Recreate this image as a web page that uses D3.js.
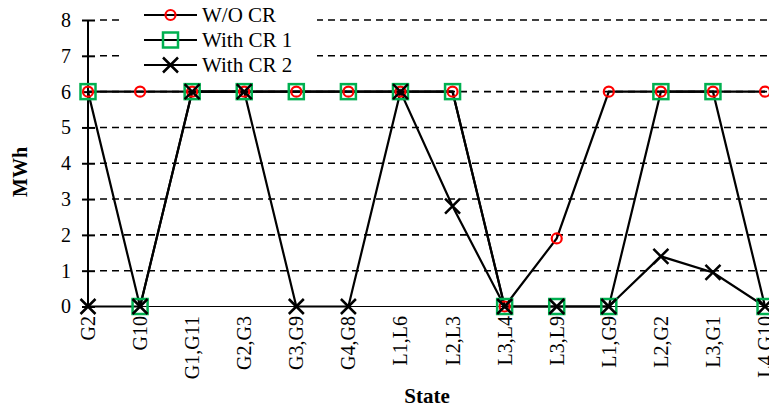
<!DOCTYPE html>
<html>
<head>
<meta charset="utf-8">
<script src="https://cdn.jsdelivr.net/npm/d3@7/dist/d3.min.js"></script>
<style>
html,body{margin:0;padding:0;background:#fff;overflow:hidden;}
svg text{font-family:"Liberation Serif","Times New Roman","DejaVu Serif",serif !important;}
</style>
</head>
<body>
<svg id="chart" width="769" height="412"></svg>
<script>
const categories = ["G2","G10","G1,G11","G2,G3","G3,G9","G4,G8","L1,L6","L2,L3","L3,L4","L3,L9","L1,G9","L2,G2","L3,G1","L4,G10"];
const seriesNames = ["W/O CR","With CR 1","With CR 2"];
const woCR  = [6,6,6,6,6,6,6,6,0,1.9,6,6,6,6];
const withCR1 = [6,0,6,6,6,6,6,6,0,0,0,6,6,0];
const withCR2 = [0,0,6,6,0,0,6,2.8,0,0,0,1.4,0.95,0];
const yTicks = [0,1,2,3,4,5,6,7,8];

const FONT = "Liberation Serif, Times New Roman, serif";
const svg = d3.select("#chart").attr("font-family", FONT);
const x0 = 88, xStep = 52.08;
const x = d3.scalePoint().domain(categories).range([x0, x0 + xStep*(categories.length-1)]);
const y = d3.scaleLinear().domain([0,8]).range([306.5,20]);
const W = 769;

// gridlines
svg.append("g").selectAll("line").data(yTicks.filter(t=>t>0)).join("line")
  .attr("x1", x0+12).attr("x2", W).attr("y1", d=>y(d)).attr("y2", d=>y(d))
  .attr("stroke","#000").attr("stroke-width",1.6).attr("stroke-dasharray","7,5");

// x baseline
svg.append("line").attr("x1",x0).attr("x2",W).attr("y1",y(0)).attr("y2",y(0))
  .attr("stroke","#000").attr("stroke-width",1.2);

// y axis
const yAxis = d3.axisLeft(y).tickValues(yTicks).tickSize(6).tickPadding(11).tickFormat(d3.format("d"));
const ga = svg.append("g").attr("transform",`translate(${x0},0)`).call(yAxis)
  .attr("font-family", FONT).attr("font-size",20);
ga.select(".domain").remove();
ga.append("line").attr("x1",0).attr("x2",0).attr("y1",y(8)).attr("y2",y(0)).attr("stroke","#000").attr("stroke-width",2);
ga.selectAll(".tick line").attr("x1",-6).attr("x2",7).attr("stroke","#000").attr("stroke-width",2);
ga.selectAll(".tick text").attr("font-size",20).attr("fill","#000").attr("font-family",FONT);

// x labels
const gx = svg.append("g");
gx.selectAll("text").data(categories).join("text")
  .attr("transform", d=>`translate(${x(d)},316) rotate(-90)`)
  .attr("text-anchor","end").attr("dy","0.35em").attr("font-family",FONT)
  .attr("font-size",20).text(d=>d);

// axis titles
svg.append("text").attr("transform","translate(20,172) rotate(-90)")
  .attr("text-anchor","middle").attr("dy","0.35em").attr("font-family",FONT)
  .attr("font-size",20).attr("font-weight","bold").text("MWh");
svg.append("text").attr("x",427).attr("y",403).attr("text-anchor","middle").attr("font-family",FONT)
  .attr("font-size",21).attr("font-weight","bold").text("State");

// lines
const line = d3.line().x((d,i)=>x(categories[i])).y(d=>y(d));
const allSeries = [woCR, withCR1, withCR2];
allSeries.forEach(s=>{
  svg.append("path").datum(s).attr("d",line).attr("fill","none")
    .attr("stroke","#000").attr("stroke-width",2.2);
});

function drawMarker(g, kind, cx, cy){
  if(kind===0){
    g.append("circle").attr("cx",cx).attr("cy",cy).attr("r",5)
      .attr("fill","none").attr("stroke","#ff0000").attr("stroke-width",2.2);
  } else if(kind===1){
    g.append("rect").attr("x",cx-7.5).attr("y",cy-7.5).attr("width",15).attr("height",15)
      .attr("fill","none").attr("stroke","#00b050").attr("stroke-width",2.5);
  } else {
    const s=7.5;
    g.append("path").attr("d",`M${cx-s},${cy-s}L${cx+s},${cy+s}M${cx-s},${cy+s}L${cx+s},${cy-s}`)
      .attr("stroke","#000").attr("stroke-width",2.5).attr("fill","none");
  }
}
const gm = svg.append("g");
allSeries.forEach((s,k)=>{
  s.forEach((v,i)=>drawMarker(gm,k,x(categories[i]),y(v)));
});

// legend
const lg = svg.append("g");
lg.append("rect").attr("x",120).attr("y",0).attr("width",197).attr("height",76).attr("fill","#fff");
seriesNames.forEach((n,k)=>{
  const cy = 15 + k*25;
  lg.append("line").attr("x1",144).attr("x2",197).attr("y1",cy).attr("y2",cy)
    .attr("stroke","#000").attr("stroke-width",2.2);
  drawMarker(lg,k,170.5,cy);
  lg.append("text").attr("x",202).attr("y",cy).attr("dy","0.35em").attr("font-family",FONT)
    .attr("font-size",21).text(n);
});
</script>
</body>
</html>
